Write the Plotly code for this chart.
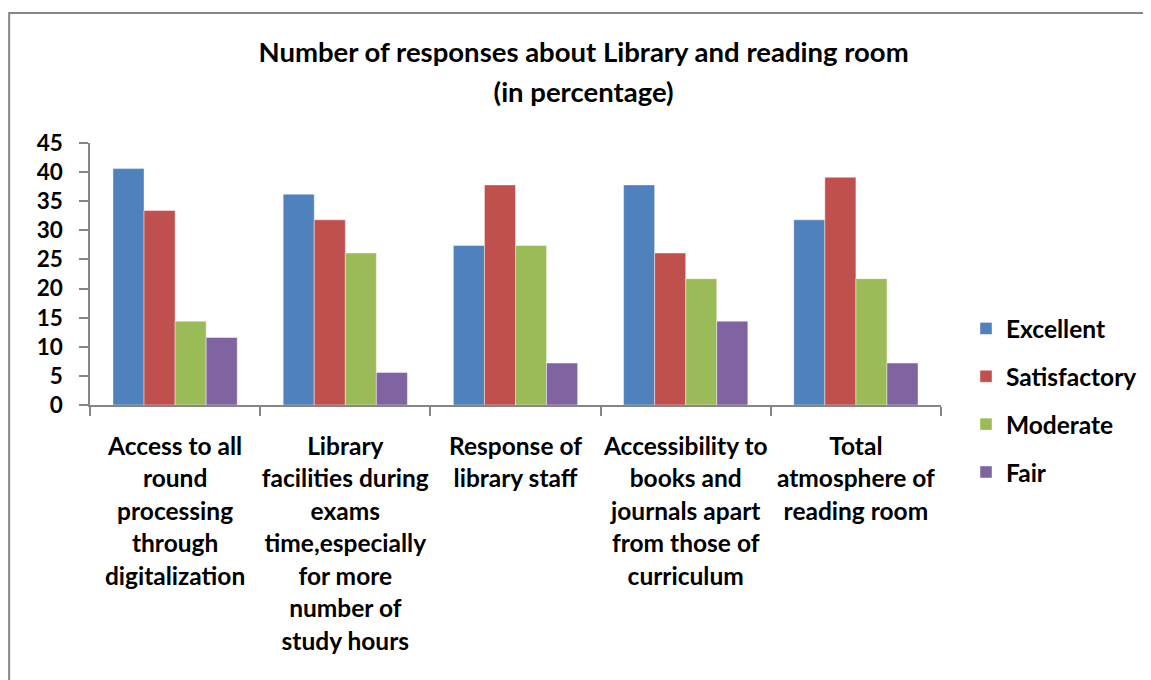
import plotly.graph_objects as go

categories = [
    ["Access to all", "round", "processing", "through", "digitalization"],
    ["Library", "facilities during", "exams", "time,especially", "for more", "number of", "study hours"],
    ["Response of", "library staff"],
    ["Accessibility to", "books and", "journals apart", "from those of", "curriculum"],
    ["Total", "atmosphere of", "reading room"],
]
excellent = [40.6, 36.2, 27.4, 37.8, 31.8]
satisfactory = [33.4, 31.8, 37.8, 26.1, 39.1]
moderate = [14.4, 26.1, 27.4, 21.7, 21.7]
fair = [11.6, 5.6, 7.2, 14.4, 7.2]
y_ticks = list(range(0, 50, 5))

series = [
    ("Excellent", excellent, "#4F81BD"),
    ("Satisfactory", satisfactory, "#C0504D"),
    ("Moderate", moderate, "#9BBB59"),
    ("Fair", fair, "#8064A2"),
]

FONT = "Lato, 'Open Sans', sans-serif"


def spaced(lines, size):
    # wrap each line in a smaller span so the base font sets a wider line spacing
    return "<br>".join(f"<span style='font-size:{size}px'>{l}</span>" for l in lines)


keys = [" ".join(c) for c in categories]
labels = [spaced(c, 24.5) for c in categories]

fig = go.Figure()
for name, vals, color in series:
    fig.add_trace(go.Bar(
        x=keys, y=vals, name=name, legendgroup=name,
        marker=dict(color=color, line=dict(color="rgba(255,255,255,0.6)", width=0.7)),
    ))

# page body has an 8px margin; figure sized so the page does not scroll
fig.update_layout(
    width=1143, height=672,
    margin=dict(l=82, r=210, t=135, b=275),
    plot_bgcolor="white", paper_bgcolor="white",
    barmode="group", bargap=0.27, bargroupgap=0,
    font=dict(family=FONT, color="black"),
    title=dict(
        text=spaced(["Number of responses about Library and reading room", "(in percentage)"], 27.5),
        font=dict(size=31, family=FONT, color="black", weight="bold"),
        x=0.58, xanchor="center", xref="paper",
        y=1 - 54 / 672, yanchor="top", yref="container",
    ),
    legend=dict(
        x=958 / 1143, xanchor="left", xref="container",
        y=1 - 298 / 672, yanchor="top", yref="container",
        font=dict(size=24.5, family=FONT, color="black", weight="bold"),
        traceorder="grouped", tracegroupgap=13,
        itemwidth=30,
    ),
    showlegend=True,
    shapes=[dict(
        type="rect", xref="paper", yref="paper",
        x0=-0.095, x1=1.5, y0=-1.3, y1=1.496,
        line=dict(color="#868686", width=2), fillcolor="rgba(0,0,0,0)", layer="below",
    )],
)

fig.update_xaxes(
    tickmode="array", tickvals=keys, ticktext=labels,
    tickfont=dict(size=25, family=FONT, color="black", weight="bold"),
    tickson="boundaries", ticks="outside", ticklen=9, tickcolor="#868686", tickwidth=1.5,
    showline=True, linecolor="#868686", linewidth=1.5,
    showgrid=False, tickangle=0, ticklabelstandoff=18,
)
fig.update_yaxes(
    range=[0, 45], tickvals=y_ticks,
    tickfont=dict(size=22.5, family=FONT, color="black", weight="bold"),
    ticks="outside", ticklen=9, tickcolor="#868686", tickwidth=1.5,
    showline=True, linecolor="#868686", linewidth=1.5,
    showgrid=False, zeroline=False, ticklabelstandoff=12,
)

fig.write_html("out.html")
